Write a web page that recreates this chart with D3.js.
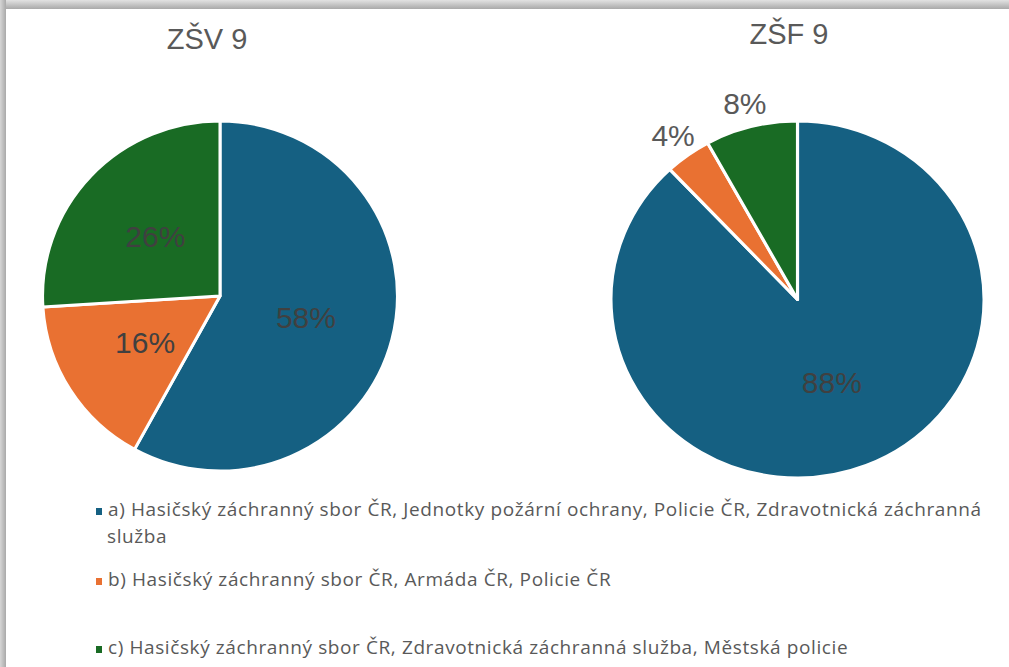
<!DOCTYPE html>
<html>
<head>
<meta charset="utf-8">
<script src="https://cdn.jsdelivr.net/npm/d3@7"></script>
<style>
  body { margin: 0; background: #fff; }
  svg { display: block; }
</style>
</head>
<body>
<div class="chart"></div>
<script>
const width = 1009;
const height = 667;

// data
const categories = ['a', 'b', 'c'];
const legendLabels = [
    ['a) Hasičský záchranný sbor ČR, Jednotky požární ochrany, Policie ČR, Zdravotnická záchranná', 'služba'],
    ['b) Hasičský záchranný sbor ČR, Armáda ČR, Policie ČR'],
    ['c) Hasičský záchranný sbor ČR, Zdravotnická záchranná služba, Městská policie']
];
const zsvValues = [58, 16, 26];
const zsfValues = [88, 4, 8];
const pieTitles = ['ZŠV 9', 'ZŠF 9'];

const colors = d3.scaleOrdinal().domain(categories).range(['#156082', '#E97132', '#196B24']);

const svg = d3.select('.chart').append('svg')
    .attr('width', width)
    .attr('height', height)
    .attr('viewBox', `0 0 ${width} ${height}`);

/*      card + shadow      */
const defs = svg.append('defs');
const gTop = defs.append('linearGradient').attr('id', 'shTop').attr('x1', 0).attr('y1', 0).attr('x2', 0).attr('y2', 1);
gTop.append('stop').attr('offset', '0%').attr('stop-color', '#e2e2e2');
gTop.append('stop').attr('offset', '100%').attr('stop-color', '#a9a9a9');
const gLeft = defs.append('linearGradient').attr('id', 'shLeft').attr('x1', 0).attr('y1', 0).attr('x2', 1).attr('y2', 0);
gLeft.append('stop').attr('offset', '0%').attr('stop-color', '#d6d6d6');
gLeft.append('stop').attr('offset', '100%').attr('stop-color', '#a9a9a9');

svg.append('rect').attr('width', width).attr('height', height).attr('fill', '#fff');
svg.append('rect').attr('x', 0).attr('y', 0).attr('width', width).attr('height', 9).attr('fill', 'url(#shTop)');
svg.append('rect').attr('x', 0).attr('y', 0).attr('width', 6).attr('height', height).attr('fill', 'url(#shLeft)');

/*      pies      */
const pies = [
    { title: pieTitles[0], values: zsvValues, cx: 220, cy: 296, r: 175, sx: 1.014, tx: 207, ty: 49 },
    { title: pieTitles[1], values: zsfValues, cx: 797.5, cy: 299.5, r: 178.5, sx: 1.045, tx: 789, ty: 44 }
];

const pie = d3.pie().sort(null).value(d => d.value);

pies.forEach(p => {
    const data = categories.map((c, i) => ({ cat: c, value: p.values[i] }));
    const arcs = pie(data);
    const arc = d3.arc().innerRadius(0).outerRadius(p.r);
    const outArc = d3.arc().innerRadius(p.r + 24).outerRadius(p.r + 24);

    svg.append('text')
        .attr('x', p.tx)
        .attr('y', p.ty)
        .attr('text-anchor', 'middle')
        .attr('font-family', 'Liberation Sans, Arial, sans-serif')
        .attr('font-size', 29)
        .attr('fill', '#595959')
        .text(p.title);

    const g = svg.append('g')
        .attr('transform', `translate(${p.cx},${p.cy}) scale(${p.sx},1)`);
    g.selectAll('path')
        .data(arcs)
        .enter()
        .append('path')
        .attr('d', arc)
        .attr('fill', d => colors(d.data.cat))
        .attr('stroke', '#fff')
        .attr('stroke-width', 3)
        .attr('stroke-linejoin', 'round');

    // labels: small slices go outside
    const labelPos = d => {
        const c = d.data.value < 10 ? outArc.centroid(d) : arc.centroid(d);
        return [p.cx + c[0] * p.sx, p.cy + c[1]];
    };
    svg.selectAll(null)
        .data(arcs)
        .enter()
        .append('text')
        .attr('x', d => labelPos(d)[0])
        .attr('y', d => labelPos(d)[1])
        .attr('dy', '0.35em')
        .attr('text-anchor', 'middle')
        .attr('font-family', 'Liberation Sans, Arial, sans-serif')
        .attr('font-size', 30)
        .attr('fill', d => d.data.value < 10 ? '#595959' : '#404040')
        .text(d => d.data.value + '%');
});

/*      legend      */
const legendY = [516, 586, 654];
const legend = svg.selectAll('.legend')
    .data(categories)
    .enter()
    .append('g')
    .attr('class', 'legend')
    .attr('transform', (d, i) => `translate(96, ${legendY[i]})`);
legend.append('rect')
    .attr('x', 0)
    .attr('y', -8)
    .attr('width', 6)
    .attr('height', 7)
    .attr('fill', d => colors(d));
legend.each(function (d, i) {
    const t = d3.select(this).append('text')
        .attr('x', 12)
        .attr('y', 0)
        .attr('font-family', 'Open Sans, sans-serif')
        .attr('font-size', 19)
        .attr('letter-spacing', 0.6)
        .attr('fill', '#595959');
    legendLabels[i].forEach((line, j) => {
        t.append('tspan').attr('x', j === 0 ? 12 : 11).attr('dy', j === 0 ? 0 : 27).text(line);
    });
});
</script>
</body>
</html>
